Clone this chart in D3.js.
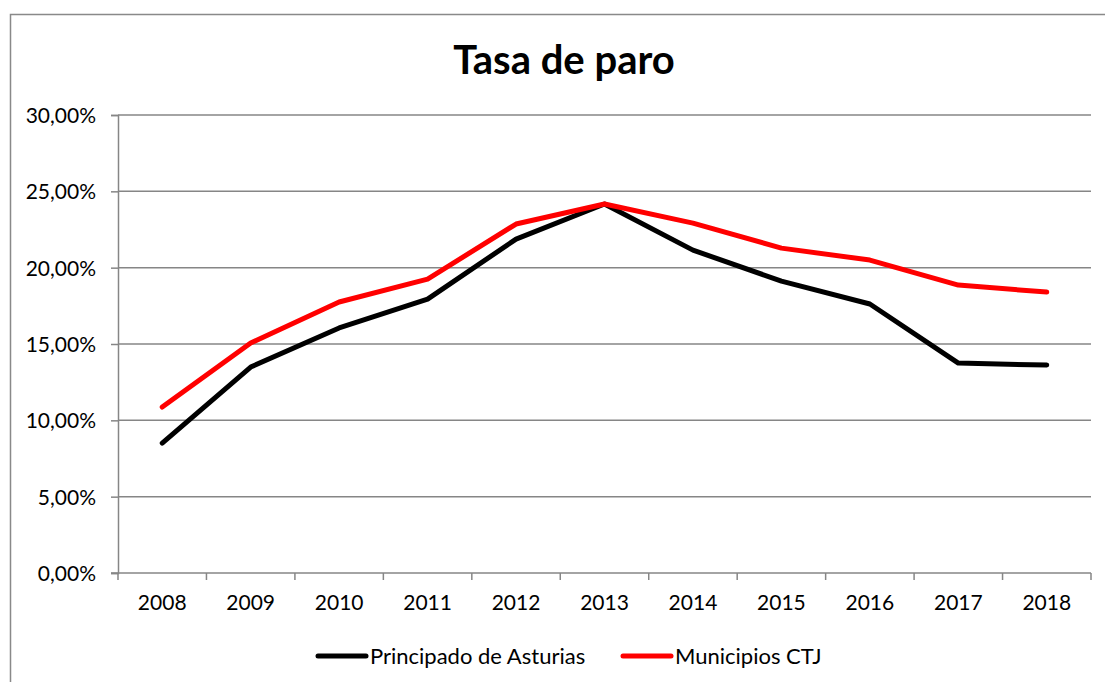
<!DOCTYPE html>
<html>
<head>
<meta charset="utf-8">
<script src="https://cdn.jsdelivr.net/npm/d3@7"></script>
<style>
  body { margin: 0; background: #fff; }
  svg text { font-family: Lato, "Open Sans", sans-serif; fill: #000; }
</style>
</head>
<body>
<div id="chart"></div>
<script>
// data
var years = ["2008", "2009", "2010", "2011", "2012", "2013", "2014", "2015", "2016", "2017", "2018"];
var asturias = [8.51, 13.49, 16.05, 17.94, 21.87, 24.17, 21.15, 19.12, 17.62, 13.75, 13.62];
var ctj = [10.87, 15.06, 17.75, 19.25, 22.86, 24.17, 22.92, 21.28, 20.5, 18.86, 18.4];
var yTicks = [0, 5, 10, 15, 20, 25, 30];
var seriesNames = ["Principado de Asturias", "Municipios CTJ"];
var seriesColors = ["#000000", "#ff0000"];

var width = 1105, height = 682;
var svg = d3.select("#chart").append("svg").attr("width", width).attr("height", height);

// outer chart frame
svg.append("rect").attr("x", 10.5).attr("y", 14.5).attr("width", 1110).attr("height", 700)
    .attr("fill", "none").attr("stroke", "#898989").attr("stroke-width", 1.5);

var x = d3.scaleBand().domain(years).range([118, 1091]);
var y = d3.scaleLinear().domain([0, 30]).range([573, 115]);

var fmt = function (d) { return d.toFixed(2).replace(".", ",") + "%"; };

// gridlines
svg.append("g").selectAll("line").data(yTicks.filter(function (d) { return d > 0; })).enter()
    .append("line")
    .attr("x1", 118).attr("x2", 1091)
    .attr("y1", function (d) { return y(d); }).attr("y2", function (d) { return y(d); })
    .attr("stroke", "#868686").attr("stroke-width", 1.5);

// y axis
var yAxis = svg.append("g").attr("transform", "translate(118,0)")
    .call(d3.axisLeft(y).tickValues(yTicks).tickFormat(fmt).tickSize(7).tickPadding(15));
yAxis.select(".domain").attr("stroke", "#868686").attr("stroke-width", 1.5);
yAxis.selectAll(".tick line").attr("stroke", "#868686").attr("stroke-width", 1.5);
yAxis.selectAll("text").attr("font-size", 21).attr("font-family", "Lato").attr("fill", "#000").attr("dy", "0.35em");

// x axis, ticks sit between categories
var xAxis = svg.append("g").attr("transform", "translate(0,573)")
    .call(d3.axisBottom(x).tickSize(0).tickPadding(22));
xAxis.select(".domain").remove();
xAxis.selectAll("text").attr("font-size", 21).attr("font-family", "Lato").attr("fill", "#000");
svg.append("line").attr("x1", 111).attr("x2", 1091).attr("y1", 573).attr("y2", 573)
    .attr("stroke", "#868686").attr("stroke-width", 1.5);
var edges = years.map(function (d) { return x(d); }).concat([x.range()[1]]);
svg.append("g").selectAll("line").data(edges).enter().append("line")
    .attr("x1", function (d) { return d; }).attr("x2", function (d) { return d; })
    .attr("y1", 573).attr("y2", 580)
    .attr("stroke", "#868686").attr("stroke-width", 1.5);

// lines
var line = d3.line()
    .x(function (d, i) { return x(years[i]) + x.bandwidth() / 2; })
    .y(function (d) { return y(d); });

[asturias, ctj].forEach(function (s, k) {
    svg.append("path").datum(s).attr("d", line)
        .attr("fill", "none").attr("stroke", seriesColors[k]).attr("stroke-width", 5)
        .attr("stroke-linejoin", "round").attr("stroke-linecap", "round");
});

// title
svg.append("text").attr("x", 564).attr("y", 74).attr("text-anchor", "middle")
    .attr("font-size", 40).attr("font-weight", "bold").text("Tasa de paro");

// legend
var legendX = [318, 623];
seriesNames.forEach(function (n, k) {
    var g = svg.append("g").attr("transform", "translate(" + legendX[k] + ",656)");
    g.append("line").attr("x1", 0).attr("x2", 48).attr("y1", 0).attr("y2", 0)
        .attr("stroke", seriesColors[k]).attr("stroke-width", 5).attr("stroke-linecap", "round");
    g.append("text").attr("x", 52).attr("y", 0).attr("dy", "0.35em").attr("font-size", 22).text(n);
});
</script>
</body>
</html>
